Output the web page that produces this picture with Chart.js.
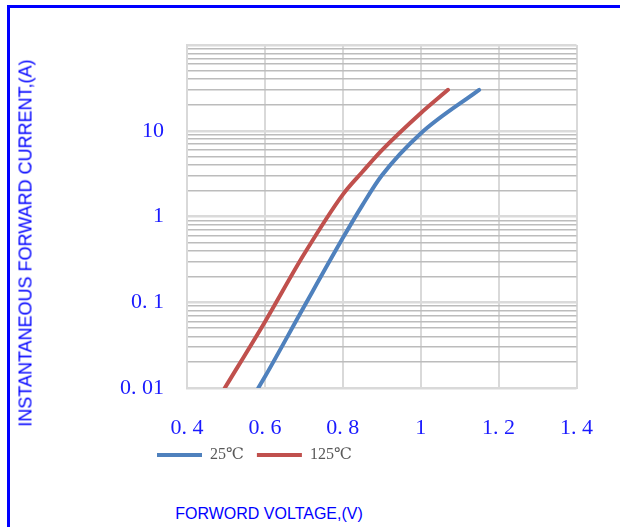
<!DOCTYPE html>
<html>
<head>
<meta charset="utf-8">
<script src="https://cdn.jsdelivr.net/npm/chart.js@4.4.1/dist/chart.umd.min.js"></script>
<style>
  body { margin: 0; background: #fff; width: 620px; height: 527px; overflow: hidden; position: relative; }
  #frame { position: absolute; left: 7px; top: 5px; width: 640px; height: 560px;
           border-left: 3px solid #0000ff; border-top: 3px solid #0000ff; }
  #wrap { position: absolute; left: 0; top: 0; width: 620px; height: 473px; }
  .ttl { position: absolute; font-family: "Liberation Sans", Arial, sans-serif; color: #0000ff; white-space: nowrap; }
  #ytitle { left: 26px; top: 243px; font-size: 18px; transform: translate(-50%, -50%) rotate(-90deg); }
  #xtitle { left: 269px; top: 514px; font-size: 16px; transform: translate(-50%, -50%); }
</style>
</head>
<body>
<div id="frame"></div>
<div id="wrap"><canvas id="chart"></canvas></div>
<div class="ttl" id="ytitle">INSTANTANEOUS FORWARD CURRENT,(A)</div>
<div class="ttl" id="xtitle">FORWORD VOLTAGE,(V)</div>
<script>
// forward voltage (V) vs current (A)
var seriesNames = ['25\u2103', '125\u2103'];
var v25 = [0.583, 0.6, 0.7, 0.8, 0.85, 0.9, 1.0, 1.15];
var i25 = [0.01, 0.0135, 0.088, 0.56, 1.35, 3.0, 9.3, 30];
var v125 = [0.497, 0.6, 0.7, 0.8, 0.85, 0.9, 1.0, 1.07];
var i125 = [0.01, 0.059, 0.36, 1.8, 3.3, 5.9, 16, 30];

var xTicks = [0.4, 0.6, 0.8, 1.0, 1.2, 1.4];
var xTickLabels = ['0. 4', '0. 6', '0. 8', '1', '1. 2', '1. 4'];
var yDecades = [0.01, 0.1, 1, 10, 100];
var yTickLabels = ['0. 01', '0. 1', '1', '10', ''];
var yMinorSteps = [2, 3, 4, 5, 6, 7, 8, 9];

function toPoints(xs, ys) {
    return xs.map(function (x, k) { return { x: x, y: ys[k] }; });
}

function labelFor(value, vals, labels) {
    for (var k = 0; k < vals.length; k++) {
        if (Math.abs(vals[k] - value) < 1e-9) return labels[k];
    }
    return '';
}

function isDecade(value) {
    return yDecades.some(function (d) { return Math.abs(d - value) < d * 1e-6; });
}

// legend sits left of the plot, under the tick labels
var legendShift = {
    id: 'legendShift',
    afterLayout: function (chart) {
        if (chart.legend) chart.legend.left = 144;
    }
};

var tickFont = { family: '"Liberation Serif", "DejaVu Serif", serif', size: 22 };

var ctx = document.getElementById('chart');
var chart = new Chart(ctx, {
    type: 'line',
    data: {
        datasets: [
        {
            label: seriesNames[0],
            data: toPoints(v25, i25),
            borderColor: '#4f81bd',
            backgroundColor: '#4f81bd',
            borderWidth: 4,
            borderCapStyle: 'round',
            pointRadius: 0,
            cubicInterpolationMode: 'monotone',
            fill: false
        },
        {
            label: seriesNames[1],
            data: toPoints(v125, i125),
            borderColor: '#c0504d',
            backgroundColor: '#c0504d',
            borderWidth: 4,
            borderCapStyle: 'round',
            pointRadius: 0,
            cubicInterpolationMode: 'monotone',
            fill: false
        }
        ]
    },
    plugins: [legendShift],
    options: {
        responsive: true,
        maintainAspectRatio: false,
        animation: false,
        layout: { padding: { top: 45, left: 100, right: 43, bottom: 0 } },
        plugins: {
            legend: {
                position: 'bottom',
                align: 'start',
                labels: {
                    usePointStyle: true,
                    pointStyle: 'line',
                    pointStyleWidth: 45,
                    padding: 13,
                    color: '#595959',
                    font: { family: '"Liberation Serif", "DejaVu Serif", serif', size: 16 }
                }
            },
            tooltip: { enabled: false }
        },
        scales: {
            x: {
                type: 'linear',
                min: 0.4,
                max: 1.4,
                afterBuildTicks: function (scale) {
                    scale.ticks = xTicks.map(function (v) { return { value: v }; });
                },
                afterFit: function (scale) { scale.height = 46; },
                grid: { color: '#d9d9d9', lineWidth: 2, drawTicks: false },
                border: { color: '#d9d9d9', width: 2 },
                ticks: {
                    padding: 27,
                    color: '#1a1aff',
                    font: tickFont,
                    maxRotation: 0,
                    autoSkip: false,
                    callback: function (value) { return labelFor(value, xTicks, xTickLabels); }
                }
            },
            y: {
                type: 'logarithmic',
                min: 0.01,
                max: 100,
                afterBuildTicks: function (scale) {
                    var t = [];
                    yDecades.forEach(function (d, k) {
                        t.push({ value: d });
                        if (k < yDecades.length - 1) {
                            yMinorSteps.forEach(function (m) { t.push({ value: +(d * m).toPrecision(6) }); });
                        }
                    });
                    scale.ticks = t;
                },
                afterFit: function (scale) { scale.width = 87; },
                grid: {
                    drawTicks: false,
                    color: function (c) { return isDecade(c.tick.value) ? '#dadada' : '#bcbcbc'; },
                    lineWidth: function (c) { return isDecade(c.tick.value) ? 2.5 : 1.5; }
                },
                border: { color: '#d9d9d9', width: 2 },
                ticks: {
                    padding: 23,
                    color: '#1a1aff',
                    font: tickFont,
                    autoSkip: false,
                    callback: function (value) { return labelFor(value, yDecades, yTickLabels); }
                }
            }
        }
    }
});
</script>
</body>
</html>
